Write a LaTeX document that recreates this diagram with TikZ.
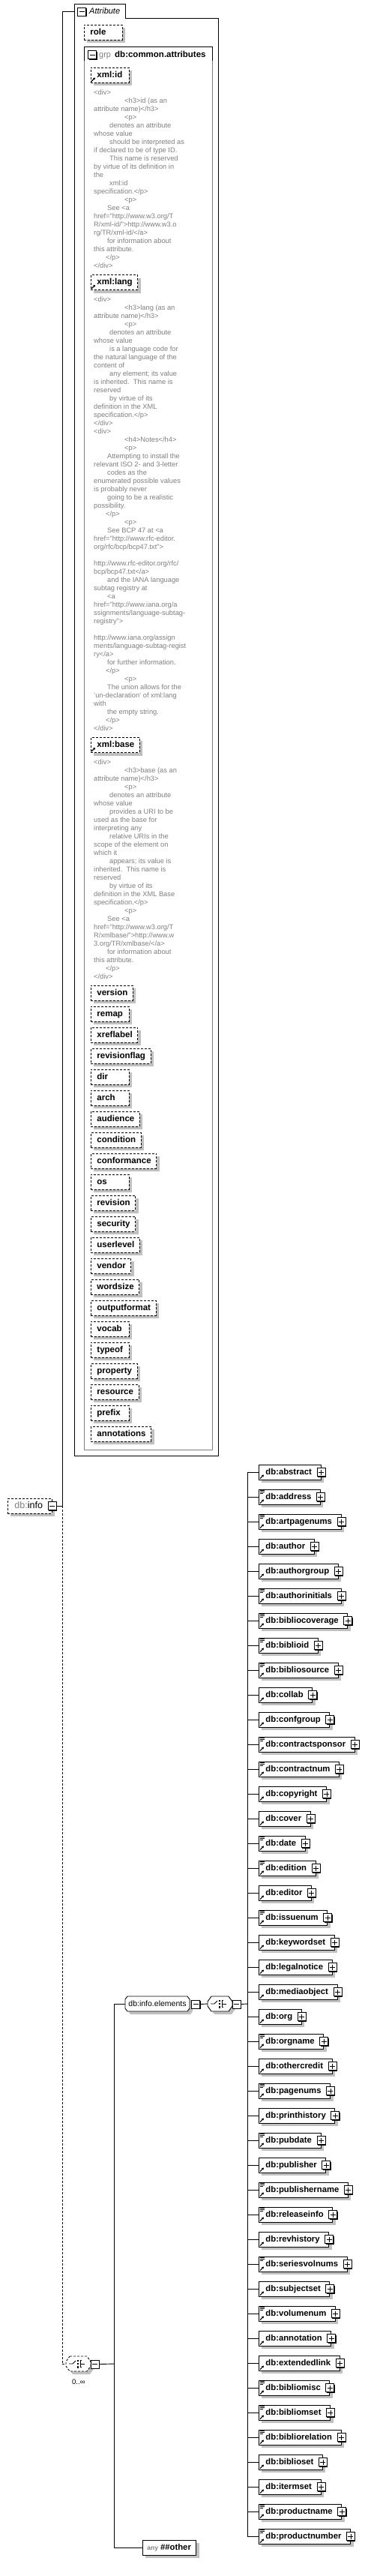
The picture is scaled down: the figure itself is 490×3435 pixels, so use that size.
\documentclass[tikz,border=0pt]{standalone}
\usepackage{fontspec}
\setmainfont{Liberation Sans}[BoldFont={Liberation Sans Bold},ItalicFont={Liberation Sans Italic}]
\newfontfamily\bsans{Liberation Sans Bold}
\usetikzlibrary{shadows,arrows.meta}
\definecolor{shadowc}{RGB}{192,192,192}
\definecolor{anngray}{RGB}{128,128,128}
\definecolor{grpgray}{RGB}{128,128,128}
\newlength\aw
\newcommand\abox[1]{\settowidth\aw{#1}\ifdim\aw<36pt\aw=36pt\fi\hspace*{8pt}\makebox[\aw][l]{#1}\hspace*{7pt}}
\newcommand\ia{\hspace*{41pt}}
\newcommand\ib{\hspace*{21pt}}
\newcommand\ic{\hspace*{18pt}}
\newcommand\id{\hspace*{16pt}}
\newcommand\refarr[2]{\draw[solid,line width=1.1pt,-{Triangle[length=2.6pt,width=3.2pt]}] (#1,#2+8.5) -- (#1+5,#2+3.5);}
\newcommand\txtic[2]{\draw[line width=0.7pt] (#1,#2-8.5) -- ++(6,0) (#1,#2-6.5) -- ++(6,0) (#1,#2-4.5) -- ++(4,0);}
% octagon: [opts] x1 y1 x2 y2 cx cy
\newcommand\octo[7][]{%
  \fill[shadowc,shift={(4,4)}] (#2+#6,#3) -- (#4-#6,#3) -- (#4,#3+#7) -- (#4,#5-#7) -- (#4-#6,#5) -- (#2+#6,#5) -- (#2,#5-#7) -- (#2,#3+#7) -- cycle;
  \draw[line width=0.9pt,fill=white,#1] (#2+#6,#3) -- (#4-#6,#3) -- (#4,#3+#7) -- (#4,#5-#7) -- (#4-#6,#5) -- (#2+#6,#5) -- (#2,#5-#7) -- (#2,#3+#7) -- cycle;}
% choice symbol: x (octagon left), y (centre)
\newcommand\chsym[2]{%
  \draw[line width=0.8pt] (#1+4,#2) -- (#1+9,#2) -- (#1+13,#2-4);
  \fill (#1+14.5,#2-5.5) rectangle ++(2.6,2.6);
  \fill (#1+14.5,#2-1.3) rectangle ++(2.6,2.6);
  \fill (#1+14.5,#2+2.9) rectangle ++(2.6,2.6);
  \draw[line width=0.8pt] (#1+21,#2-4.5) -- (#1+19,#2-4.5) -- (#1+19,#2+4.5) -- (#1+21,#2+4.5) (#1+19,#2) -- (#1+25,#2);}
\begin{document}
\begin{tikzpicture}[x=1pt,y=-1pt,
  shadowed/.style={drop shadow={shadow xshift=4pt,shadow yshift=-4pt,fill=shadowc,draw=none,opacity=1}},
  attrbox/.style={draw,dash pattern=on 3pt off 2pt,line width=0.9pt,fill=white,shadowed,anchor=west,minimum height=20pt,inner sep=0pt,font=\fontsize{11.5}{13}\bsans,text height=8.5pt,text depth=2.5pt},
  elembox/.style={draw,solid,line width=0.9pt,fill=white,shadowed,anchor=west,minimum height=20pt,inner sep=0pt,font=\fontsize{11.3}{13}\bsans,text height=8.5pt,text depth=2.5pt},
  pmbox/.style={draw,solid,fill=white,line width=0.8pt,minimum size=11pt,inner sep=0pt,drop shadow={shadow xshift=1pt,shadow yshift=-1pt,fill=black,opacity=1}},
  plusbox/.style={pmbox,path picture={\draw[line width=0.8pt] ([xshift=-3.5pt]path picture bounding box.center) -- ([xshift=3.5pt]path picture bounding box.center) ([yshift=-3.5pt]path picture bounding box.center) -- ([yshift=3.5pt]path picture bounding box.center);}},
  minusbox/.style={pmbox,path picture={\draw[line width=0.8pt] ([xshift=-3.5pt]path picture bounding box.center) -- ([xshift=3.5pt]path picture bounding box.center);}},
  conn/.style={line width=0.9pt},
  dconn/.style={line width=0.9pt,dash pattern=on 3pt off 2pt},
  ann/.style={anchor=north west,inner sep=0pt,align=left,font=\fontsize{9.3}{11}\selectfont,text=anngray}
]
\fill[white] (0,0) rectangle (490,3435);
\useasboundingbox (0,0) rectangle (490,3435);

% ---------------- Attribute panel ----------------
\draw[line width=1pt] (99,1941) -- (99,5) -- (167,5) -- (167,24) -- (291,24) -- (291,1941) -- cycle;
\node[minusbox] (tabm) at (109,15.5) {};
\node[anchor=west,inner sep=0pt,font=\fontsize{11}{13}\selectfont\itshape] (tabt) at (119,15) {Attribute};
\coordinate (tabc) at (99,15);

\node[attrbox] (role) at (112,43) {\abox{role}};

\draw[grpgray,line width=1pt] (112,62) rectangle (283,1933);
\draw[line width=1pt] (112,81) -- (112,62) -- (283,62) -- (283,81);
\node[minusbox] (grpm) at (123,73) {};
\node[anchor=base west,inner sep=0pt,font=\fontsize{11}{13}\selectfont,text=anngray] (grpk) at (132,76) {grp};
\node[anchor=base west,inner sep=0pt,font=\fontsize{11.5}{13}\bsans] (grpn) at (153,76) {db:common.attributes};

% xml:id
\node[attrbox] (xid) at (121,100) {\abox{xml:id}};
\refarr{122}{100}
\node[ann] (annid) at (125,118.3) {\strut<div>\\
\ia<h3>id (as an\\
attribute name)</h3>\\
\ia<p>\\
\ib denotes an attribute\\
whose value\\
\ib should be interpreted as\\
if declared to be of type ID.\\
\ib This name is reserved\\
by virtue of its definition in\\
the\\
\ib xml:id\\
specification.</p>\\
\ia<p>\\
\ic See <a\\
href="http://www.w3.org/T\\
R/xml-id/">http://www.w3.o\\
rg/TR/xml-id/</a>\\
\ic for information about\\
this attribute.\\
\id</p>\\
</div>};

% xml:lang
\node[attrbox] (xlang) at (121,376.5) {\abox{xml:lang}};
\refarr{122}{376.5}
\node[ann] (annlang) at (125,394.3) {\strut<div>\\
\ia<h3>lang (as an\\
attribute name)</h3>\\
\ia<p>\\
\ib denotes an attribute\\
whose value\\
\ib is a language code for\\
the natural language of the\\
content of\\
\ib any element; its value\\
is inherited.\ \ This name is\\
reserved\\
\ib by virtue of its\\
definition in the XML\\
specification.</p>\\
</div>\\
<div>\\
\ia<h4>Notes</h4>\\
\ia<p>\\
\ic Attempting to install the\\
relevant ISO 2- and 3-letter\\
\ic codes as the\\
enumerated possible values\\
is probably never\\
\ic going to be a realistic\\
possibility.\\
\id</p>\\
\ia<p>\\
\ic See BCP 47 at <a\\
href="http://www.rfc-editor.\\
org/rfc/bcp/bcp47.txt">\\
\mbox{}\\
http://www.rfc-editor.org/rfc/\\
bcp/bcp47.txt</a>\\
\ic and the IANA language\\
subtag registry at\\
\ic <a\\
href="http://www.iana.org/a\\
ssignments/language-subtag-\\
registry">\\
\mbox{}\\
http://www.iana.org/assign\\
ments/language-subtag-regist\\
ry</a>\\
\ic for further information.\\
\id</p>\\
\ia<p>\\
\ic The union allows for the\\
'un-declaration' of xml:lang\\
with\\
\ic the empty string.\\
\id</p>\\
</div>};

% xml:base
\node[attrbox] (xbase) at (121,993.5) {\abox{xml:base}};
\refarr{122}{993.5}
\node[ann] (annbase) at (125,1011.3) {\strut<div>\\
\ia<h3>base (as an\\
attribute name)</h3>\\
\ia<p>\\
\ib denotes an attribute\\
whose value\\
\ib provides a URI to be\\
used as the base for\\
interpreting any\\
\ib relative URIs in the\\
scope of the element on\\
which it\\
\ib appears; its value is\\
inherited.\ \ This name is\\
reserved\\
\ib by virtue of its\\
definition in the XML Base\\
specification.</p>\\
\ia<p>\\
\ic See <a\\
href="http://www.w3.org/T\\
R/xmlbase/">http://www.w\\
3.org/TR/xmlbase/</a>\\
\ic for information about\\
this attribute.\\
\id</p>\\
</div>};

\foreach \n [count=\i from 0] in {version,remap,xreflabel,revisionflag,dir,arch,audience,condition,conformance,os,revision,security,userlevel,vendor,wordsize,outputformat,vocab,typeof,property,resource,prefix,annotations}{
  \pgfmathsetmacro\yy{1324+28*\i}
  \node[attrbox] (at\i) at (121,\yy) {\abox{\n}};
}

% ---------------- db:info ----------------
\node[attrbox,font=\fontsize{12.5}{14}\selectfont,text height=9pt] (info) at (10,2008) {\hspace*{9pt}\textcolor{anngray}{db:}info\hspace*{12pt}};
\node[minusbox] (infom) at (info.east) {};
\coordinate (vtop) at (83,15);
\coordinate (vinfo) at (83,2008);
\coordinate (vbot) at (83,3152);
\draw[conn] (infom.east) -- (vinfo) -- (vtop) -- (tabc);
\draw[dconn] (vinfo) -- (vbot);

% outer compositor (choice 0..inf)
\octo[dash pattern=on 3pt off 2pt]{88}{3142}{121}{3162}{5}{7}
\node[inner sep=0pt,minimum width=33pt,minimum height=20pt] (outer) at (104.5,3152) {};
\chsym{88}{3152}
\node[minusbox] (outm) at (126.5,3152.5) {};
\node[inner sep=0pt,font=\fontsize{9.5}{11}\selectfont,anchor=west] (occ) at (96,3176) {0..∞};
\draw[dconn] (vbot) -- (outer.west);
\coordinate (g1) at (152,2672);
\coordinate (g2) at (152,3397);
\coordinate (gm) at (152,3152);
\draw[conn] (outm.east) -- (gm);
\draw[conn] (g1) -- (g2);

% group db:info.elements
\octo{167}{2662}{253}{2682}{3}{4}
\node[inner sep=0pt,minimum width=86pt,minimum height=20pt,font=\fontsize{10.5}{12}\selectfont] (ginfo) at (210,2672) {db:info.elements};
\node[minusbox] (ginfom) at (261,2672.5) {};
\draw[conn] (g1) -- (ginfo.west);

% inner choice
\octo{277}{2662}{310}{2682}{5}{7}
\node[inner sep=0pt,minimum width=33pt,minimum height=20pt] (ch) at (293.5,2672) {};
\chsym{277}{2672}
\node[minusbox] (chm) at (315.5,2672.5) {};
\draw[conn] (ginfom.east) -- (ch.west);
\coordinate (chv) at (330,2672);
\draw[conn] (chm.east) -- (chv);

% any ##other
\node[elembox] (any) at (190,3397) {\hspace*{6pt}{\fontsize{8.5}{10}\selectfont\color{anngray}any}\hspace*{3pt}\#\#other\hspace*{7pt}};
\draw[conn] (g2) -- (any.west);

% ---------------- element list ----------------
\coordinate (btop) at (330,1963);
\coordinate (bbot) at (330,3382);
\draw[conn] (btop) -- (bbot);
\foreach \n/\f [count=\i from 0] in {abstract/0,address/1,artpagenums/1,author/0,authorgroup/0,authorinitials/1,bibliocoverage/1,biblioid/1,bibliosource/1,collab/0,confgroup/0,contractsponsor/1,contractnum/1,copyright/0,cover/0,date/1,edition/1,editor/0,issuenum/1,keywordset/0,legalnotice/0,mediaobject/0,org/0,orgname/1,othercredit/0,pagenums/1,printhistory/0,pubdate/1,publisher/0,publishername/1,releaseinfo/1,revhistory/0,seriesvolnums/1,subjectset/0,volumenum/1,annotation/0,extendedlink/0,bibliomisc/1,bibliomset/1,bibliorelation/1,biblioset/0,itermset/0,productname/1,productnumber/1}{
  \pgfmathsetmacro\yy{1963+33*\i}
  \coordinate (b\i) at (330,\yy);
  \node[elembox] (e\i) at (345,\yy) {\hspace*{9pt}db:\n\hspace*{12pt}};
  \node[plusbox] (p\i) at (e\i.east) {};
  \draw[conn] (b\i) -- (e\i.west);
  \refarr{347}{\yy}
  \ifnum\f=1 \txtic{347}{\yy}\fi
}
\end{tikzpicture}
\end{document}
